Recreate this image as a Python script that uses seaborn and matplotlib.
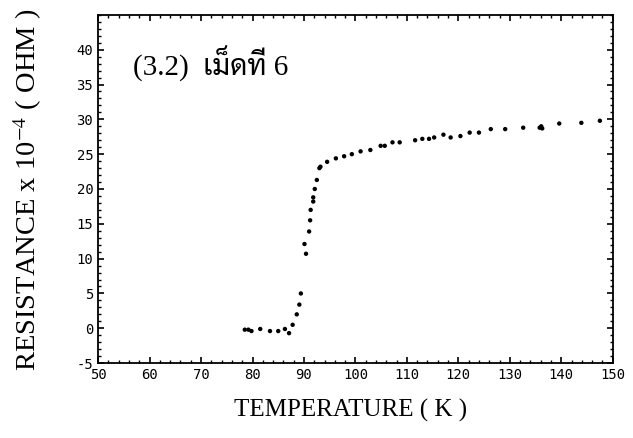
import matplotlib
matplotlib.use("Agg")
import matplotlib.pyplot as plt
from matplotlib.ticker import MultipleLocator
import pandas as pd
import seaborn as sns

# temperature (K) and resistance (x 1e-4 ohm)
temperature = [78.5, 79.2, 79.8, 81.5, 83.4, 85.0, 86.3, 87.1, 87.8, 88.6,
               89.1, 89.4, 90.1, 90.4, 91.0, 91.2, 91.3, 91.8, 91.8, 92.1,
               92.5, 93.0, 93.2, 94.5, 96.2, 97.8, 99.3, 101.0, 102.9, 104.9,
               105.7, 107.2, 108.6, 111.6, 113.0, 114.3, 115.3, 117.1, 118.5, 120.4,
               122.2, 124.0, 126.3, 129.1, 132.6, 135.8, 136.1, 136.3, 139.6, 143.9,
               147.5]
resistance = [-0.2, -0.2, -0.4, -0.1, -0.4, -0.4, -0.1, -0.7, 0.5, 2.0,
              3.4, 5.0, 12.1, 10.7, 13.9, 15.5, 17.0, 18.2, 18.8, 20.0,
              21.3, 23.0, 23.2, 23.9, 24.4, 24.7, 25.0, 25.4, 25.6, 26.2,
              26.2, 26.7, 26.7, 27.0, 27.2, 27.2, 27.4, 27.8, 27.4, 27.6,
              28.1, 28.1, 28.6, 28.6, 28.8, 28.8, 29.0, 28.7, 29.4, 29.5,
              29.8]

df = pd.DataFrame({"T": temperature, "R": resistance})

sns.set_style("ticks")
plt.rcParams["axes.unicode_minus"] = False
plt.rcParams["mathtext.fontset"] = "stix"
plt.rcParams["text.color"] = "black"
plt.rcParams["axes.labelcolor"] = "black"

fig = plt.figure(figsize=(6.33, 4.38), dpi=100)
ax = fig.add_axes([0.155, 0.171, 0.813, 0.795])

sns.scatterplot(data=df, x="T", y="R", ax=ax, color="black", s=10,
                edgecolor="none", legend=False)

ax.set_xlim(50, 150)
ax.set_ylim(-5, 45)
ax.xaxis.set_major_locator(MultipleLocator(10))
ax.xaxis.set_minor_locator(MultipleLocator(2))
ax.yaxis.set_minor_locator(MultipleLocator(1))
ax.set_yticks([-5, 0, 5, 10, 15, 20, 25, 30, 35, 40])
ax.tick_params(which="both", direction="in", top=True, right=True,
               color="black", labelcolor="black")
ax.tick_params(which="major", length=4, width=1.2)
ax.tick_params(which="minor", length=2, width=1)
for lab in ax.get_xticklabels() + ax.get_yticklabels():
    lab.set_fontfamily("DejaVu Sans Mono")
    lab.set_fontsize(10)
for sp in ax.spines.values():
    sp.set_linewidth(1.3)
    sp.set_color("black")

ax.set_xlabel("TEMPERATURE ( K )", fontfamily="Liberation Serif", fontsize=18,
              va="center")
ax.xaxis.set_label_coords(0.49, -0.135)
ax.set_ylabel(r"RESISTANCE x 10$^{-4}$ ( OHM )", fontfamily="Liberation Serif",
              fontsize=20.5, va="center")
ax.yaxis.set_label_coords(-0.137, 0.497)

ax.text(0.068, 0.86, "(3.2)  เม็ดที่ 6", transform=ax.transAxes,
        fontsize=21, family=["Liberation Serif", "Sarabun"], va="center")

fig.savefig("out.png", dpi=100)
